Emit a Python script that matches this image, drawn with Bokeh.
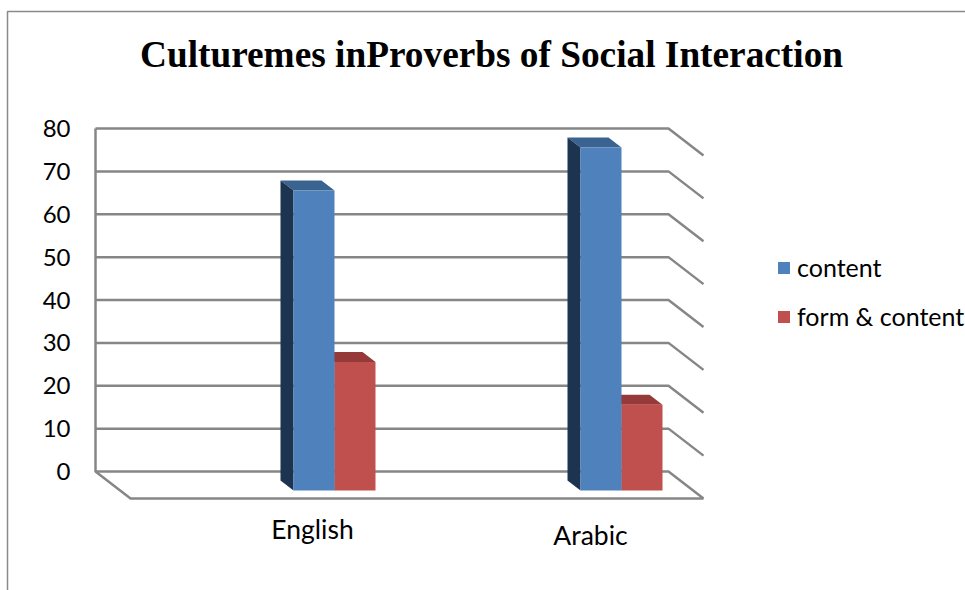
from bokeh.embed import file_html
from bokeh.models import BoxAnnotation, FixedTicker, Label, Legend, LegendItem, LinearAxis, Range1d
from bokeh.plotting import figure
from bokeh.resources import INLINE
from bokeh.core.properties import value

# Chart values
categories = ["English", "Arabic"]
content = [70, 80]
form_content = [30, 20]
y_ticks = [0, 10, 20, 30, 40, 50, 60, 70, 80]
title_text = "Culturemes inProverbs of Social Interaction"

# Canvas and scale set-up: one x unit is one category slot on the back wall
W, H = 965, 590
PX_X = 286.5
PX_Y = 4.2875
ORIGIN_X, ORIGIN_Y = 95, 471


def ux(px):
    return px / PX_X


def uy(px):
    return px / PX_Y


p = figure(
    width=W, height=H, output_backend="svg", toolbar_location=None,
    x_range=Range1d(ux(-ORIGIN_X), ux(W - ORIGIN_X)),
    y_range=Range1d(uy(ORIGIN_Y - H), uy(ORIGIN_Y)),
    x_axis_type=None, y_axis_type=None,
    min_border=0, min_border_left=0, min_border_right=0, min_border_top=0, min_border_bottom=0,
)
p.grid.visible = False
p.outline_line_color = None

# Outer chart border, open towards the page edge (screen y counts from the bottom here)
p.add_layout(BoxAnnotation(
    left=7, right=W + 10, top=H - 11, bottom=-10,
    left_units="screen", right_units="screen", top_units="screen", bottom_units="screen",
    fill_color=None, line_color="#8a8a8a", line_alpha=1.0, line_width=1.5,
))

# Perspective box: back wall, floor and side gridlines
GRID = "#868686"
wall_w = 2.0
floor_dx, floor_dy = ux(35), uy(27)
top_tick, base_tick = max(y_ticks), min(y_ticks)
p.multi_line(
    xs=[[0, wall_w, wall_w + floor_dx] for _ in y_ticks],
    ys=[[t, t, t - floor_dy] for t in y_ticks],
    line_color=GRID, line_width=2.5,
)
p.multi_line(
    xs=[[0, 0, floor_dx, wall_w + floor_dx]],
    ys=[[top_tick, base_tick, base_tick - floor_dy, base_tick - floor_dy]],
    line_color=GRID, line_width=2.5,
)

# Bars stand forward of the back wall, so their zero sits below the wall's zero
group_centres = [ux(334 - ORIGIN_X), ux(621 - ORIGIN_X)]
bar_w = ux(41)
base = uy(-19)
depth_x, depth_y = ux(13), uy(10)


def draw_series(vals, lefts, front, side, top):
    rights = [l + bar_w for l in lefts]
    tops = [base + v for v in vals]
    p.patches(
        xs=[[l, r, r - depth_x, l - depth_x] for l, r in zip(lefts, rights)],
        ys=[[t, t, t + depth_y, t + depth_y] for t in tops],
        fill_color=top, line_color=None,
    )
    p.patches(
        xs=[[l, l - depth_x, l - depth_x, l] for l in lefts],
        ys=[[base, base + depth_y, t + depth_y, t] for t in tops],
        fill_color=side, line_color=None,
    )
    return p.quad(left=lefts, right=rights, bottom=base, top=tops, fill_color=front, line_color=None)


red = draw_series(form_content, list(group_centres), "#C0504D", "#7F2F2D", "#953A39")
blue = draw_series(content, [c - bar_w for c in group_centres], "#4F81BD", "#1C3450", "#3B6390")

# Value axis placed against the back wall
yaxis = LinearAxis(
    fixed_location=0,
    ticker=FixedTicker(ticks=y_ticks),
    axis_line_color=None, major_tick_line_color=None, minor_tick_line_color=None,
    major_label_standoff=19,
    major_label_text_font="Lato", major_label_text_font_size="24px", major_label_text_color="#000000",
)
p.add_layout(yaxis, "left")

# Category labels sit at slightly different heights
label_x = [ux(312 - ORIGIN_X), ux(590 - ORIGIN_X)]
label_y = [uy(ORIGIN_Y - 528), uy(ORIGIN_Y - 534)]
p.text(
    x=label_x, y=label_y, text=categories,
    text_font=value("Lato"), text_font_size="26.5px", text_color="#000000",
    text_align="center", text_baseline="middle",
)

# Chart title
p.add_layout(Label(
    x=491, y=H - 54, x_units="screen", y_units="screen", text=title_text,
    text_font="Liberation Serif", text_font_style="bold", text_font_size="37.3px",
    text_color="#000000", text_align="center", text_baseline="middle",
))

# Legend
legend = Legend(
    items=[LegendItem(label="content", renderers=[blue]), LegendItem(label="form & content", renderers=[red])],
    location=(776, H - 331),
    background_fill_alpha=0, border_line_color=None,
    margin=0, padding=0, spacing=19,
    glyph_width=15, glyph_height=15, label_standoff=6, label_height=27,
    label_text_font="Lato", label_text_font_size="25px", label_text_color="#000000",
)
p.add_layout(legend, "center")

open("out.html", "w").write(file_html(p, INLINE))
